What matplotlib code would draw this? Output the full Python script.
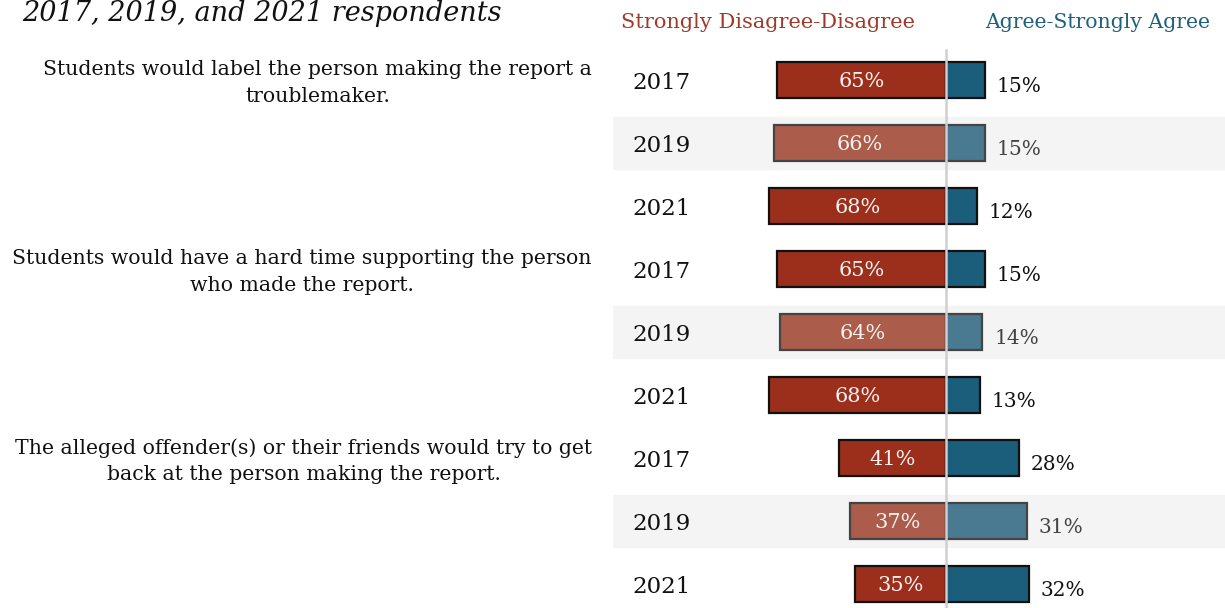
import numpy as np
import matplotlib.pyplot as plt

plt.rcParams['font.family'] = ['DejaVu Serif']

# ---- data ----
questions = ['Students would label the person making the report a\ntroublemaker.',
             'Students would have a hard time supporting the person\nwho made the report.',
             'The alleged offender(s) or their friends would try to get\nback at the person making the report.']
years = ['2017', '2019', '2021']
disagree = [65, 66, 68, 65, 64, 68, 41, 37, 35]
agree = [15, 15, 12, 15, 14, 13, 28, 31, 32]

red = '#9b2f1b'
blue = '#1a5e7c'
red_light = '#ab5c4b'
blue_light = '#4a7a91'

W, H = 1225, 608
fig = plt.figure(figsize=(W / 100, H / 100), dpi=100)

# bar panel: 0 sits at x=946px, 2.6 px per percent, rows 63px apart
px_per = 2.6
x0 = 946
ax_left = 613
ax = fig.add_axes([ax_left / W, 0, 1 - ax_left / W, 1])
ax.set_xlim(-(x0 - ax_left) / px_per, (W - x0) / px_per)
row0, step = 80, 63
ax.set_ylim((H - row0) / step, -row0 / step)
ax.axis('off')

n = len(disagree)
rows = np.arange(n)

for i in rows:
    yr = i % 3
    light = yr == 1
    if light:
        ax.axhspan(i - 0.405, i + 0.405, color='#f4f4f4', zorder=0)
    fc_r = red_light if light else red
    fc_b = blue_light if light else blue
    ec = '#444444' if light else '#111111'
    ax.barh(i, -disagree[i], height=0.57, color=fc_r, edgecolor=ec, linewidth=1.6, zorder=2)
    ax.barh(i, agree[i], height=0.57, color=fc_b, edgecolor=ec, linewidth=1.6, zorder=2)
    ax.text(-disagree[i] / 2, i + 0.03, f'{disagree[i]}%', ha='center', va='center',
            color='#f6f0ee', fontsize=15, zorder=4)
    ax.text(agree[i] + 4.5, i + 0.1, f'{agree[i]}%', ha='left', va='center',
            color='#444444' if light else '#111111', fontsize=14.5, zorder=4)
    ax.text((632 - x0) / px_per, i + 0.05, years[yr], ha='left', va='center',
            color='#111111', fontsize=16.5)

# centre line
ax.plot([0, 0], [(50 - row0) / step, (H - row0) / step], color='#cfcfcf', lw=1.8, zorder=3)

ax.text((915 - x0) / px_per, (22 - row0) / step, 'Strongly Disagree-Disagree',
        ha='right', va='center', color='#a0392a', fontsize=15)
ax.text((985 - x0) / px_per, (22 - row0) / step, 'Agree-Strongly Agree',
        ha='left', va='center', color='#1f5f7f', fontsize=14.7)

# question labels, centred on the first row of each group
for g, q in enumerate(questions):
    yc = row0 + step * 3 * g + 3
    fig.text(592 / W, 1 - yc / H, q, ha='right', va='center', multialignment='center',
             fontsize=14.7, color='#111111', linespacing=1.5)

fig.text(22 / W, 1 - 21 / H, '2017, 2019, and 2021 respondents', ha='left', va='baseline',
         fontsize=19.5, style='italic', color='#111111')

fig.savefig('out.png', dpi=100)
